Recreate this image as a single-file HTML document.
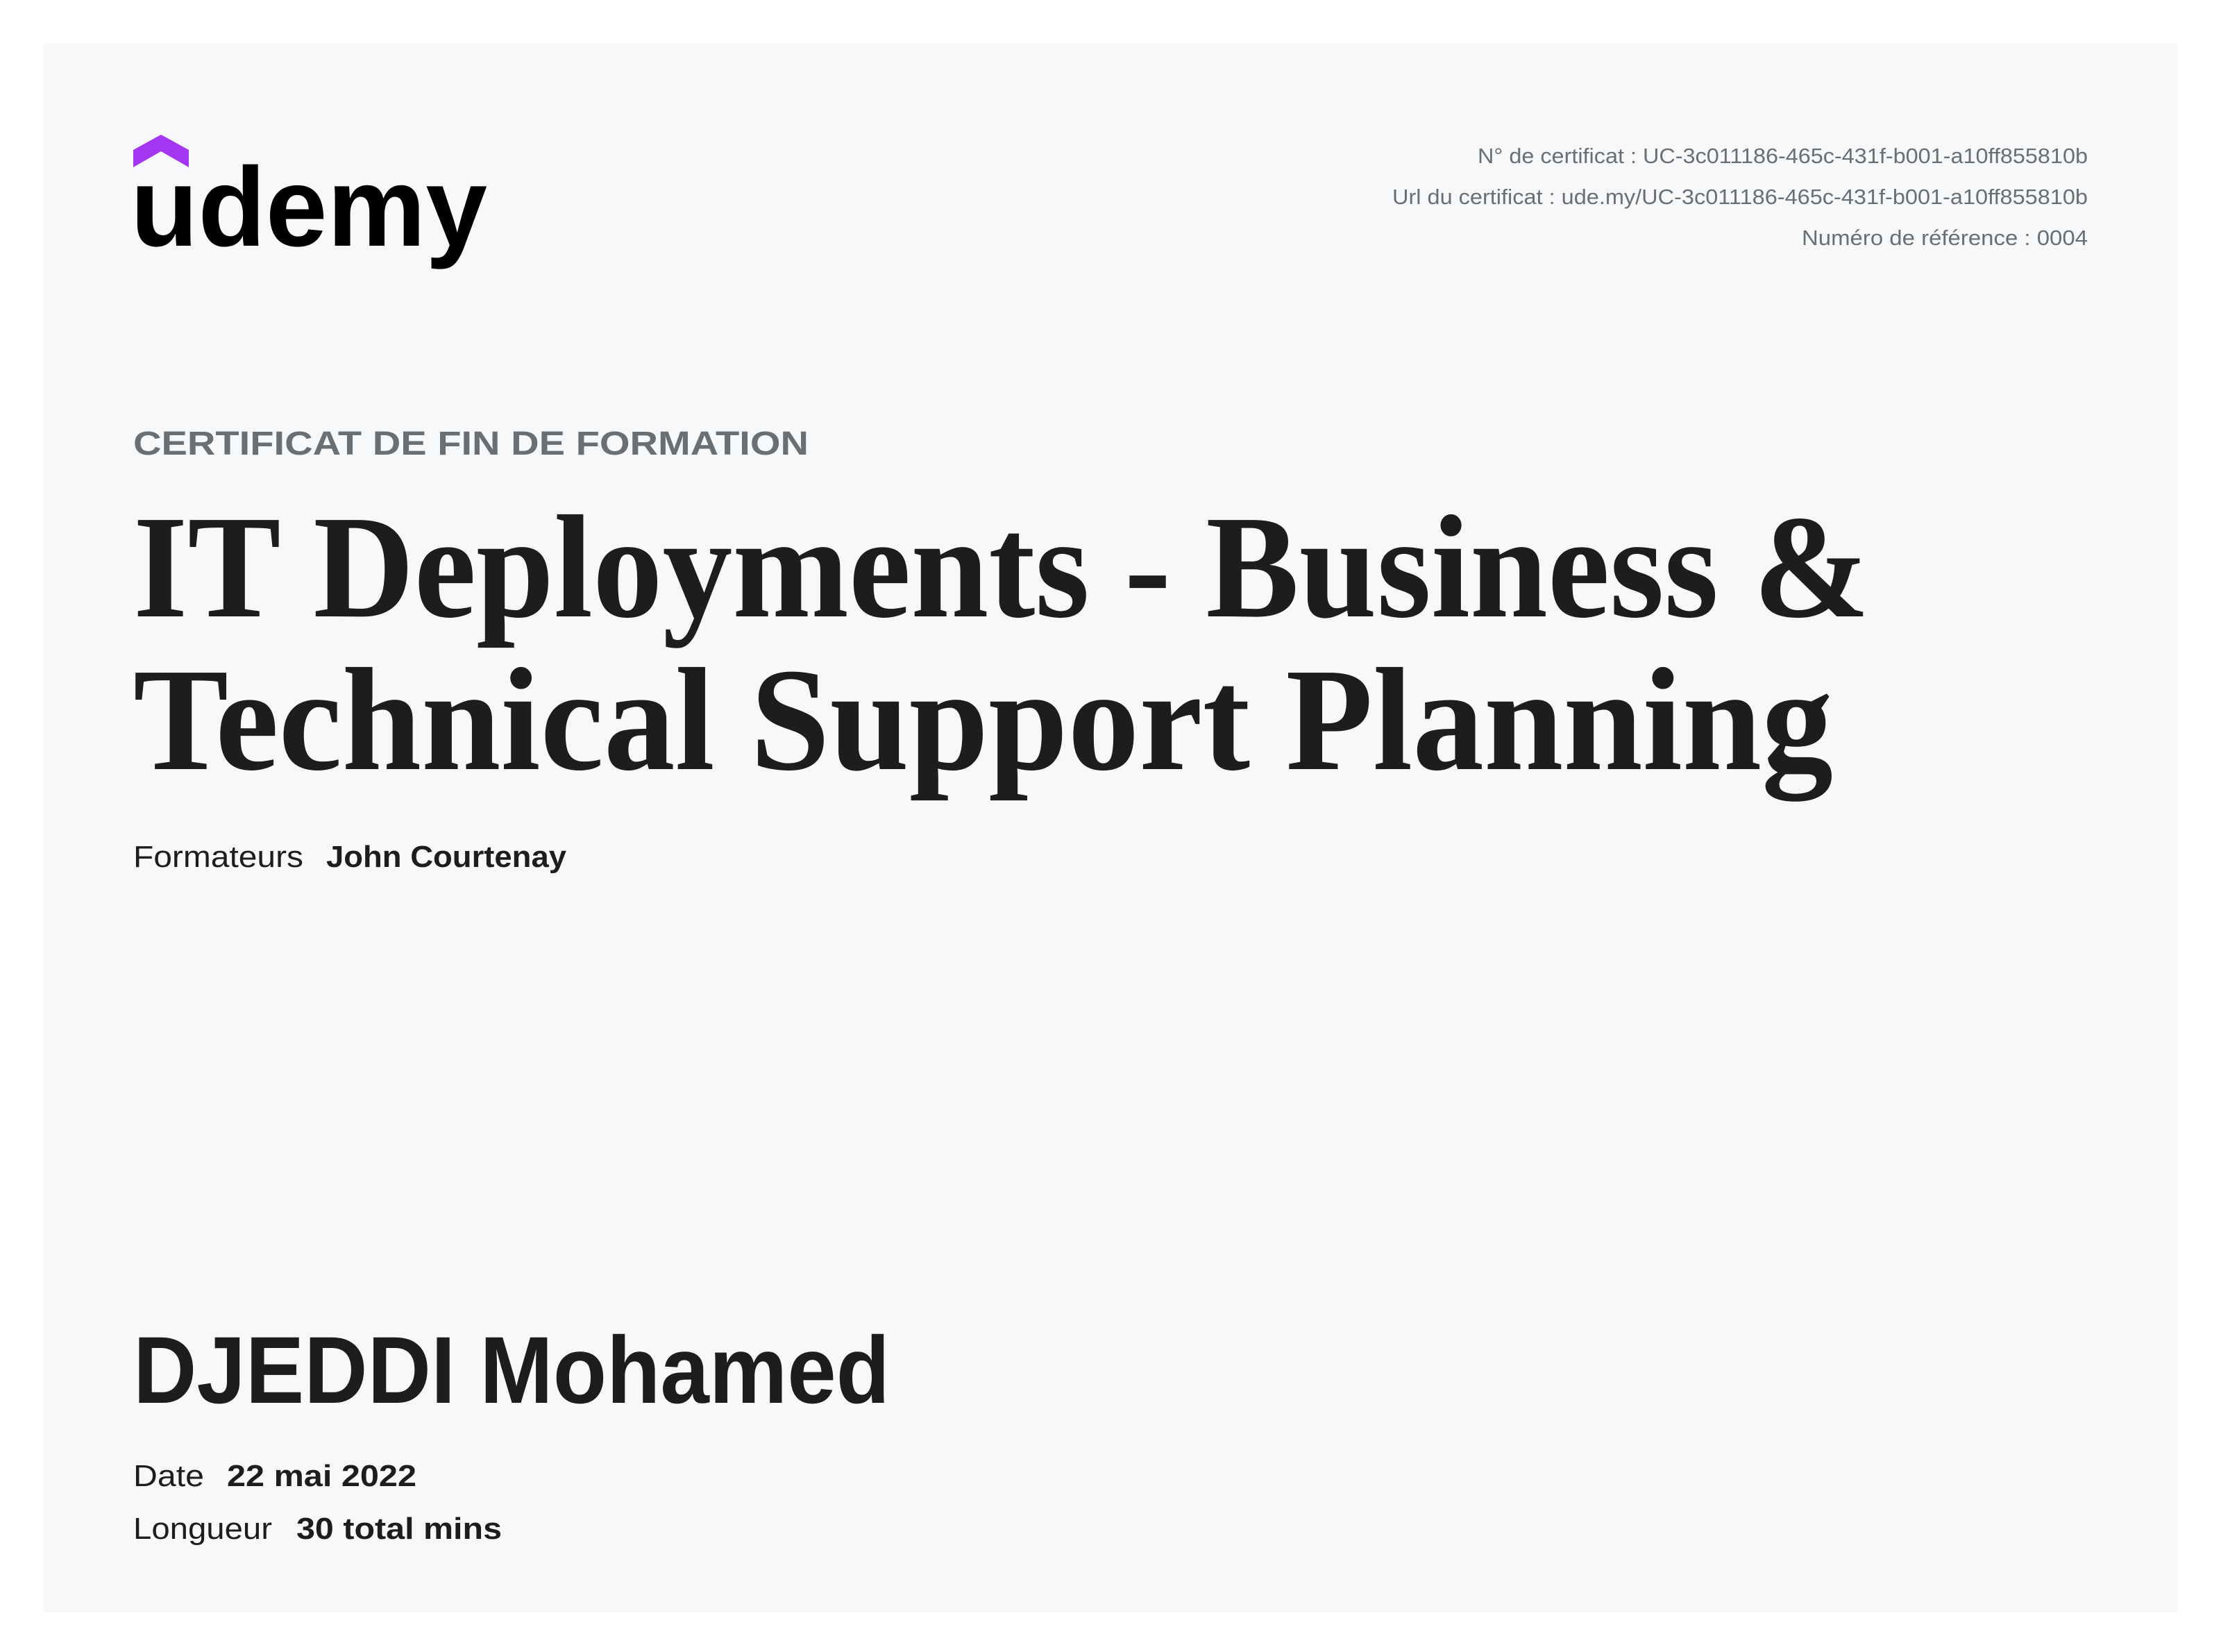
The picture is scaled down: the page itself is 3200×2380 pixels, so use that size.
<!DOCTYPE html>
<html><head><meta charset="utf-8"><style>
html,body{margin:0;padding:0;background:#fff;}
svg{display:block;}
text{font-family:"Liberation Sans",sans-serif;}
</style></head><body>
<svg width="3200" height="2380" viewBox="0 0 3200 2380">
<rect x="63" y="63" width="3074" height="2260" fill="#f7f8fa"/>
<g>
<path d="M192 241 L192 216 L232 194 L272 216 L272 241 L232 218 Z" fill="#a435f0"/>
<text x="188" y="354" font-size="162" font-weight="bold" fill="#000" textLength="514" lengthAdjust="spacingAndGlyphs">udemy</text>
</g>
<g fill="#6a6f73" font-size="31" text-anchor="end">
<text x="3008" y="235" textLength="879" lengthAdjust="spacingAndGlyphs">N° de certificat : UC-3c011186-465c-431f-b001-a10ff855810b</text>
<text x="3008" y="294" textLength="1002" lengthAdjust="spacingAndGlyphs">Url du certificat : ude.my/UC-3c011186-465c-431f-b001-a10ff855810b</text>
<text x="3008" y="353" textLength="412" lengthAdjust="spacingAndGlyphs">Numéro de référence : 0004</text>
</g>
<text x="192" y="655" font-size="48" font-weight="bold" fill="#6a6f73" textLength="973" lengthAdjust="spacingAndGlyphs">CERTIFICAT DE FIN DE FORMATION</text>
<g font-weight="bold" font-size="212" fill="#1c1d1f">
<text x="192" y="888" textLength="2502" lengthAdjust="spacingAndGlyphs" style="font-family:'Liberation Serif',serif">IT Deployments - Business &amp;</text>
<text x="192" y="1108" textLength="2449" lengthAdjust="spacingAndGlyphs" style="font-family:'Liberation Serif',serif">Technical Support Planning</text>
</g>
<g font-size="44" fill="#1c1d1f">
<text x="192" y="1249" textLength="245" lengthAdjust="spacingAndGlyphs">Formateurs</text>
<text x="470" y="1249" font-weight="bold" textLength="346" lengthAdjust="spacingAndGlyphs">John Courtenay</text>
</g>
<text x="192" y="2021" font-size="137" font-weight="bold" fill="#1c1d1f" textLength="1090" lengthAdjust="spacingAndGlyphs">DJEDDI Mohamed</text>
<g font-size="44" fill="#1c1d1f">
<text x="192" y="2141" textLength="102" lengthAdjust="spacingAndGlyphs">Date</text>
<text x="327" y="2141" font-weight="bold" textLength="273" lengthAdjust="spacingAndGlyphs">22 mai 2022</text>
<text x="192" y="2217" textLength="200" lengthAdjust="spacingAndGlyphs">Longueur</text>
<text x="427" y="2217" font-weight="bold" textLength="296" lengthAdjust="spacingAndGlyphs">30 total mins</text>
</g>
</svg>
</body></html>
